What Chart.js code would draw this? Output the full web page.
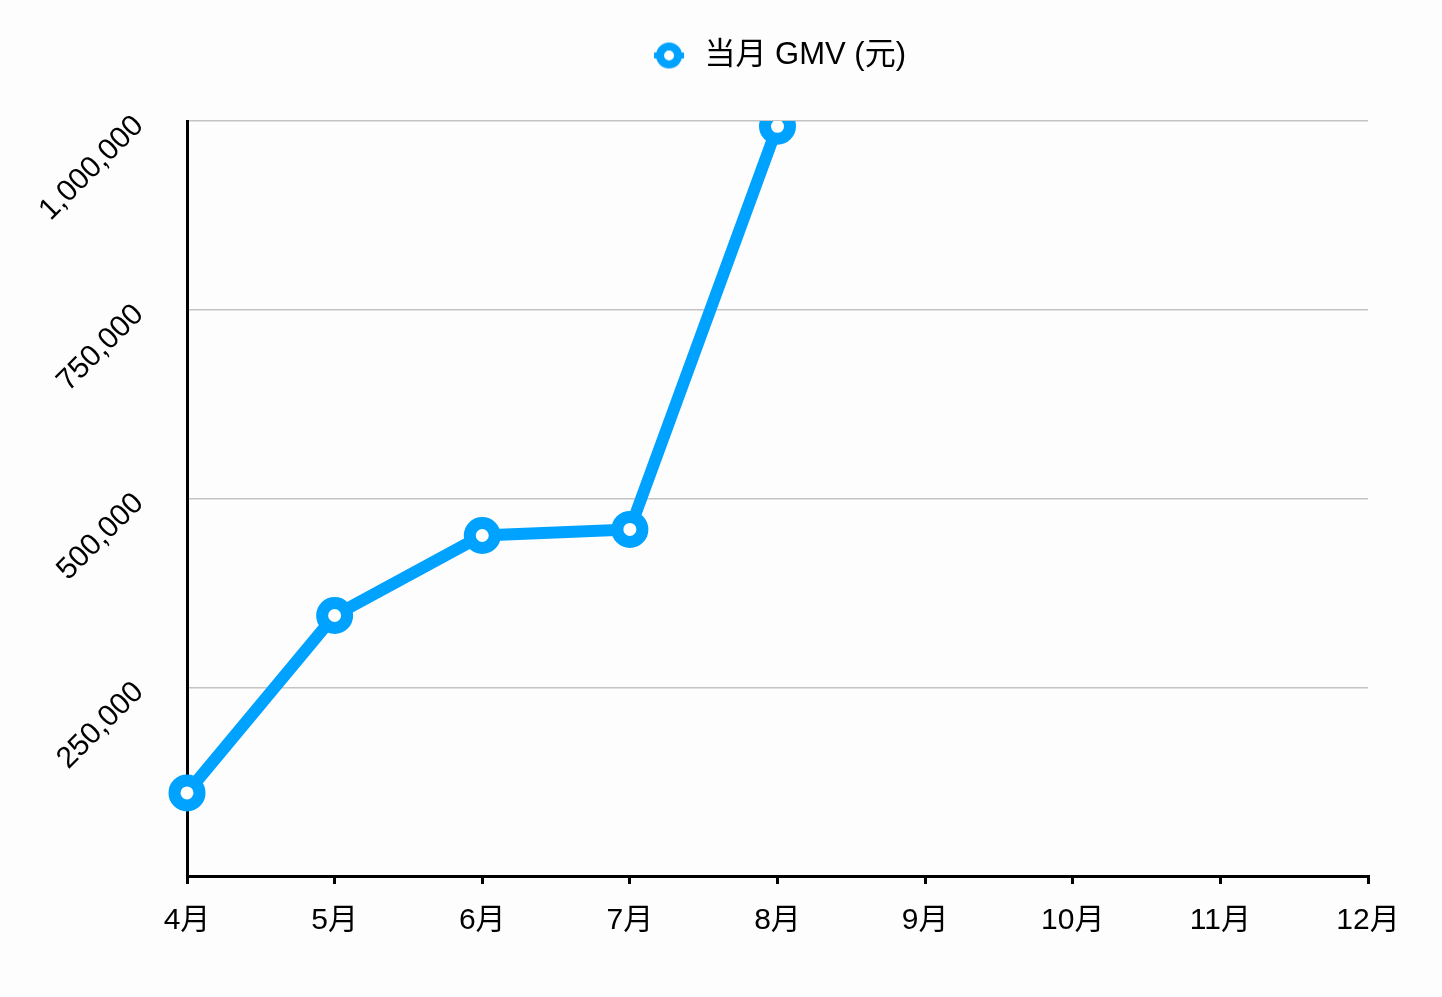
<!DOCTYPE html>
<html>
<head>
<meta charset="utf-8">
<script src="https://cdn.jsdelivr.net/npm/chart.js@4/dist/chart.umd.min.js"></script>
<style>
  html, body { margin: 0; padding: 0; background: #fdfdfd; }
  #wrap { width: 1442px; height: 997px; }
</style>
</head>
<body>
<div id="wrap"><canvas id="gmvChart" width="1442" height="997"></canvas></div>
<script>
const months = ["4月", "5月", "6月", "7月", "8月", "9月", "10月", "11月", "12月"];
const gmv = [110000, 345000, 451000, 459000, 993000, null, null, null, null];
const seriesLabel = '当月 GMV (元)';
const blue = '#00a2ff';
const fontFamily = '"Liberation Sans", Arial, "Noto Sans CJK SC", sans-serif';

// legend icon: ring with short stubs on both sides
function makeLegendIcon() {
    const c = document.createElement('canvas');
    c.width = 32; c.height = 28;
    const g = c.getContext('2d');
    g.fillStyle = blue;
    g.fillRect(1, 11, 30, 6);
    g.beginPath();
    g.arc(16, 14, 9, 0, Math.PI * 2);
    g.lineWidth = 8;
    g.strokeStyle = blue;
    g.fillStyle = '#ffffff';
    g.fill();
    g.stroke();
    return c;
}
const legendIcon = makeLegendIcon();

// extra room under the legend, and centre it over the plot area
const legendGap = {
    id: 'legendGap',
    beforeUpdate(chart) {
        const lg = chart.legend;
        if (lg && !lg._gapPatched) {
            const fit = lg.fit;
            lg.fit = function () { fit.call(this); this.height += 40; };
            const draw = lg.draw;
            lg.draw = function () {
                const area = chart.chartArea;
                const shift = (area.left + area.right) / 2 - (this.left + this.right) / 2;
                this.ctx.save();
                this.ctx.translate(shift, 0);
                draw.call(this);
                this.ctx.restore();
            };
            lg._gapPatched = true;
        }
    }
};

const ctx = document.getElementById('gmvChart');
const chart = new Chart(ctx, {
    type: 'line',
    data: {
        labels: months,
        datasets: [{
            label: seriesLabel,
            data: gmv,
            borderColor: blue,
            backgroundColor: '#ffffff',
            borderWidth: 12,
            pointRadius: 12.5,
            pointBorderWidth: 12,
            pointBackgroundColor: '#ffffff',
            pointBorderColor: blue,
            tension: 0,
            spanGaps: false
        }]
    },
    plugins: [legendGap],
    options: {
        responsive: false,
        animation: false,
        layout: { padding: { top: 10, right: 74, bottom: 0, left: 0 } },
        plugins: {
            legend: {
                labels: {
                    usePointStyle: true,
                    pointStyleWidth: 40,
                    boxWidth: 40,
                    color: '#000',
                    padding: 30,
                    font: { family: fontFamily, size: 31 },
                    generateLabels(ch) {
                        const items = Chart.defaults.plugins.legend.labels.generateLabels(ch);
                        items.forEach(it => { it.pointStyle = legendIcon; });
                        return items;
                    }
                }
            },
            tooltip: { enabled: false }
        },
        scales: {
            x: {
                offset: false,
                afterFit(s) { s.height = 121; },
                grid: { drawOnChartArea: false, drawTicks: true, tickLength: 8, color: '#000', lineWidth: 3 },
                border: { display: true, color: '#000', width: 3 },
                ticks: { color: '#000', padding: 19, maxRotation: 0, font: { family: fontFamily, size: 30 } }
            },
            y: {
                min: 0,
                max: 1000000,
                afterFit(s) { s.width = 187; },
                grid: { drawTicks: false, color: '#c4c4c4', lineWidth: 1.5 },
                border: { display: true, color: '#000', width: 3 },
                ticks: {
                    stepSize: 250000,
                    color: '#000',
                    padding: 48,
                    minRotation: 45,
                    maxRotation: 45,
                    font: { family: fontFamily, size: 30 },
                    callback: v => v === 0 ? '' : v.toLocaleString('en-US')
                }
            }
        }
    }
});
</script>
</body>
</html>
